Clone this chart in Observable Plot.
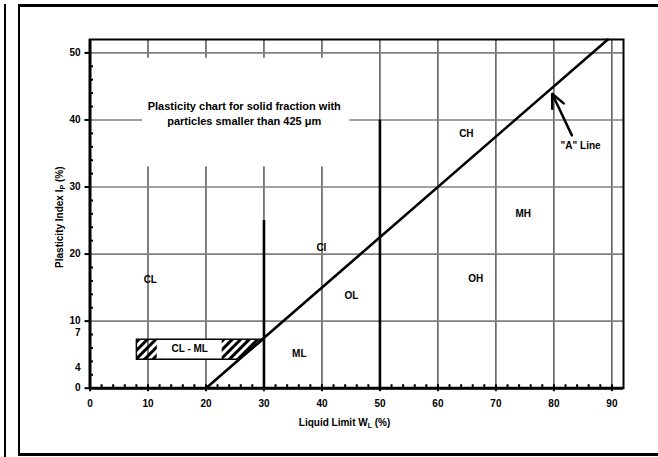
<!DOCTYPE html>
<html><head><meta charset="utf-8">
<script src="https://cdn.jsdelivr.net/npm/d3@7"></script>
<script src="https://cdn.jsdelivr.net/npm/@observablehq/plot@0.6"></script>
<style>
html,body{margin:0;padding:0;background:#fff;}
#wrap{position:relative;width:658px;height:457px;overflow:hidden;}
.ln{position:absolute;background:#000;}
#chart svg{position:absolute;left:0;top:0;}
</style></head><body>
<div id="wrap">
<div id="chart"></div>
<div class="ln" style="left:4px;top:4px;width:2px;height:453px"></div>
<div class="ln" style="left:18px;top:3.5px;width:640px;height:3px"></div>
<div class="ln" style="left:18px;top:4px;width:2px;height:451px"></div>
<div class="ln" style="left:18px;top:452.5px;width:640px;height:3px"></div>
</div>
<script>
// ---- data ----
const xGrid = [10, 20, 30, 40, 50, 60, 70, 80, 90];
const yGrid = [10, 20, 30, 40, 50];
const xTickLabels = [0, 10, 20, 30, 40, 50, 60, 70, 80, 90];
const yTickLabels = [0, 10, 20, 30, 40, 50];
const yUpperExtra = [7];
const yLowerExtra = [4];
const xMinor = [2,4,6,8,12,14,16,18,22,24,26,28,32,34,36,38,42,44,46,48,52,54,56,58,62,64,66,68,72,74,76,78,82,84,86,88];
const yMinor = [2,4,6,8,12,14,16,18,22,24,26,28,32,34,36,38,42,44,46,48];

const aLine = [{wl: 20, ip: 0}, {wl: 89.3, ip: 52}];
const boundaries = [{wl: 30, ip0: 0, ip1: 25}, {wl: 50, ip0: 0, ip1: 40}];
const clmlZone = [{wl: 8, ip: 4.3}, {wl: 8, ip: 7.3}, {wl: 30, ip: 7.3}, {wl: 25.7, ip: 4.3}, {wl: 8, ip: 4.3}];
const clmlGap = [{wl1: 11.6, wl2: 22.8, ip1: 4.3, ip2: 7.3}];
const titleBox = [{wl1: 9.05, wl2: 44.8, ip1: 33, ip2: 49.2}];
const titleText = [{text: "Plasticity chart for solid fraction with\nparticles smaller than 425 μm", wl: 26.6, ip: 41.05}];
const zoneLabels = [
  {text: "CL", wl: 10.4, ip: 16.1},
  {text: "CI", wl: 39.9, ip: 21},
  {text: "CH", wl: 64.9, ip: 38},
  {text: "MH", wl: 74.7, ip: 26},
  {text: "OH", wl: 66.5, ip: 16.3},
  {text: "OL", wl: 45.1, ip: 13.8},
  {text: "ML", wl: 36.1, ip: 5.2},
  {text: "CL - ML", wl: 17.2, ip: 5.9},
  {text: "\"A\" Line", wl: 84.6, ip: 36.1}
];
const arrowA = [{wl1: 83.1, ip1: 37.7, wl2: 79.7, ip2: 43.9}];
const xLabel = [{text: "Liquid Limit WL (%)", wl: 43.9, ip: -5.1}];
const yLabel = [{text: "Plasticity Index IP (%)", wl: -5.26, ip: 25.5}];

// ---- chart ----
const font = "'Liberation Sans', Arial, sans-serif";
const plot = Plot.plot({
  width: 658, height: 457,
  marginLeft: 89.5, marginRight: 35, marginTop: 39, marginBottom: 69.3,
  x: {domain: [0, 92], axis: null},
  y: {domain: [0, 52], axis: null},
  style: {fontFamily: font, fontWeight: "bold", fontSize: "10px", background: "transparent", color: "#000"},
  marks: [
    Plot.ruleX(xGrid, {stroke: "#000", strokeWidth: 1}),
    Plot.ruleY(yGrid, {stroke: "#808080", strokeWidth: 1.6}),
    Plot.rect(titleBox, {x1: "wl1", x2: "wl2", y1: "ip1", y2: "ip2", fill: "#fff"}),
    Plot.line(clmlZone, {x: "wl", y: "ip", fill: "url(#hatch)", stroke: "none"}),
    Plot.rect(clmlGap, {x1: "wl1", x2: "wl2", y1: "ip1", y2: "ip2", fill: "#fff"}),
    Plot.line(clmlZone, {x: "wl", y: "ip", stroke: "#000", strokeWidth: 1.5}),
    Plot.ruleX(boundaries, {x: "wl", y1: "ip0", y2: "ip1", stroke: "#000", strokeWidth: 2.6}),
    Plot.line(aLine, {x: "wl", y: "ip", stroke: "#000", strokeWidth: 2.6}),
    Plot.frame({stroke: "#000", strokeWidth: 2}),
    Plot.ruleY([0], {stroke: "#000", strokeWidth: 3}),
    Plot.ruleX([0], {stroke: "#000", strokeWidth: 3}),
    Plot.axisX(xMinor, {tickSize: 3.5, dy: -3.5, strokeWidth: 2, fill: "none", label: null}),
    Plot.axisX(xTickLabels, {tickSize: 7, dy: -3.5, strokeWidth: 2, fill: "none", label: null}),
    Plot.axisX(xTickLabels, {tickSize: 0, tickPadding: 11.7, fontSize: 10, fontWeight: "bold", label: null}),
    Plot.axisY(yMinor, {tickSize: 3.5, dx: 3.5, strokeWidth: 2, fill: "none", label: null}),
    Plot.axisY(yTickLabels, {tickSize: 5, strokeWidth: 2, fill: "none", label: null}),
    Plot.axisY(yTickLabels, {tickSize: 0, tickPadding: 9.5, fontSize: 10, fontWeight: "bold", label: null}),
    Plot.axisY(yUpperExtra, {tickSize: 0, tickPadding: 9.5, dy: -8.5, fontSize: 10, fontWeight: "bold", label: null}),
    Plot.axisY(yLowerExtra, {tickSize: 0, tickPadding: 9.5, dy: 6.8, fontSize: 10, fontWeight: "bold", label: null}),
    Plot.text(titleText, {x: "wl", y: "ip", text: "text", fontSize: 11, fontWeight: "bold", lineHeight: 1.36}),
    Plot.text(zoneLabels, {x: "wl", y: "ip", text: "text", fontSize: 10, fontWeight: "bold"}),
    Plot.text(xLabel, {x: "wl", y: "ip", text: "text", fontSize: 10, fontWeight: "bold"}),
    Plot.text(yLabel, {x: "wl", y: "ip", text: "text", fontSize: 10, fontWeight: "bold", rotate: -90}),
    Plot.arrow(arrowA, {x1: "wl1", y1: "ip1", x2: "wl2", y2: "ip2", stroke: "#000", strokeWidth: 2.5, headLength: 9, headAngle: 50})
  ]
});

const ns = "http://www.w3.org/2000/svg";
const defs = document.createElementNS(ns, "defs");
defs.innerHTML = '<pattern id="hatch" width="6" height="6" patternUnits="userSpaceOnUse" patternTransform="rotate(45)"><rect x="0" y="0" width="3" height="6" fill="#000"/></pattern>';
plot.insertBefore(defs, plot.firstChild);

plot.querySelectorAll("text").forEach(t => {
  if (t.textContent === "Liquid Limit WL (%)") {
    t.innerHTML = 'Liquid Limit W<tspan dy="2.5" font-size="7">L</tspan><tspan dy="-2.5"> (%)</tspan>';
  } else if (t.textContent === "Plasticity Index IP (%)") {
    t.innerHTML = 'Plasticity Index I<tspan dy="2.5" font-size="7">P</tspan><tspan dy="-2.5"> (%)</tspan>';
  }
});

document.getElementById("chart").appendChild(plot);
</script>
</body></html>
